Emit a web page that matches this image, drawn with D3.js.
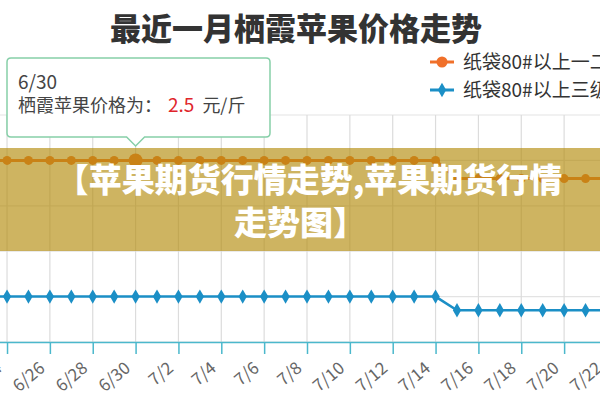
<!DOCTYPE html>
<meta charset="utf-8">
<head>
    <title>最近一月栖霞苹果价格走势</title>
    <script type="text/javascript" src="https://cdn.jsdelivr.net/npm/d3@7/dist/d3.min.js"></script>
    <style type="text/css">
        body { margin: 0; background: #fff; }
        svg { display: block; font-family: "Noto Sans CJK SC", "Noto Sans", sans-serif; }
    </style>
</head>
<body>
    <div id="chart"></div>
    <script>
        // data
        var dates = ["6/23", "6/24", "6/25", "6/26", "6/27", "6/28", "6/29", "6/30",
                     "7/1", "7/2", "7/3", "7/4", "7/5", "7/6", "7/7", "7/8", "7/9", "7/10",
                     "7/11", "7/12", "7/13", "7/14", "7/15", "7/16", "7/17", "7/18", "7/19",
                     "7/20", "7/21", "7/22", "7/23"];
        var grade12 = [2.5, 2.5, 2.5, 2.5, 2.5, 2.5, 2.5, 2.5,
                       2.5, 2.5, 2.5, 2.5, 2.5, 2.5, 2.5, 2.5, 2.5, 2.5,
                       2.5, 2.5, 2.5, 2.5, 2.3, 2.3, 2.3, 2.3, 2.3,
                       2.3, 2.3, 2.3, 2.3];
        var grade3 = [1.0, 1.0, 1.0, 1.0, 1.0, 1.0, 1.0, 1.0,
                      1.0, 1.0, 1.0, 1.0, 1.0, 1.0, 1.0, 1.0, 1.0, 1.0,
                      1.0, 1.0, 1.0, 1.0, 0.85, 0.85, 0.85, 0.85, 0.85,
                      0.85, 0.85, 0.85, 0.85];
        var tickDates = ["6/24", "6/26", "6/28", "6/30", "7/2", "7/4", "7/6", "7/8",
                         "7/10", "7/12", "7/14", "7/16", "7/18", "7/20", "7/22"];
        var yTicks = [0.5, 1.0, 1.5, 2.0, 2.5, 3.0];
        var seriesNames = ["纸袋80#以上一二级", "纸袋80#以上三级"];
        var hoverDate = "6/30";

        var width = 600;
        var height = 400;
        var orange = "#f0702a";
        var blue = "#1b8fc6";

        var svg = d3.select("#chart")
            .append("svg")
            .attr("width", width)
            .attr("height", height);

        var x = d3.scalePoint()
            .domain(dates)
            .range([-14.4, 628.4]);
        var y = d3.scaleLinear()
            .domain([0.5, 3.0])
            .range([342, 115]);

        // grid
        svg.append("g").selectAll("line.h")
            .data(yTicks)
            .enter().append("line")
            .attr("x1", 0).attr("x2", width)
            .attr("y1", d => y(d)).attr("y2", d => y(d))
            .attr("stroke", "#e3e3e3").attr("stroke-width", 1.2);
        svg.append("g").selectAll("line.v")
            .data(tickDates)
            .enter().append("line")
            .attr("x1", d => x(d)).attr("x2", d => x(d))
            .attr("y1", y(3.0)).attr("y2", y(0.5))
            .attr("stroke", "#dcdcdc").attr("stroke-width", 1.2);

        // x axis
        var xAxis = d3.axisBottom(x)
            .tickValues(tickDates)
            .tickSize(12)
            .tickFormat("");
        var gx = svg.append("g")
            .attr("transform", "translate(0," + y(0.5) + ")")
            .call(xAxis);
        gx.select(".domain").attr("stroke", "#4bb8cc").attr("stroke-width", 1.5);
        gx.selectAll(".tick line").attr("stroke", "#4bb8cc").attr("stroke-width", 1.5);

        svg.append("g").selectAll("text")
            .data(tickDates)
            .enter().append("text")
            .attr("transform", d => "translate(" + (x(d) - 4) + ",370) rotate(-40)")
            .attr("text-anchor", "end")
            .attr("font-size", 17)
            .attr("fill", "#666")
            .text(d => d);

        // lines
        var line = d3.line()
            .x(d => x(d.date))
            .y(d => y(d.value));
        var s1 = dates.map((d, i) => ({date: d, value: grade12[i]}));
        var s2 = dates.map((d, i) => ({date: d, value: grade3[i]}));

        svg.append("path")
            .datum(s1)
            .attr("d", line)
            .attr("fill", "none")
            .attr("stroke", orange)
            .attr("stroke-width", 3);
        svg.append("g").selectAll("circle")
            .data(s1)
            .enter().append("circle")
            .attr("cx", d => x(d.date))
            .attr("cy", d => y(d.value))
            .attr("r", d => d.date === hoverDate ? 7 : 4.5)
            .attr("fill", orange);

        svg.append("path")
            .datum(s2)
            .attr("d", line)
            .attr("fill", "none")
            .attr("stroke", blue)
            .attr("stroke-width", 2.5);
        var diamond = d3.symbol().type(d3.symbolDiamond).size(60);
        svg.append("g").selectAll("path")
            .data(s2)
            .enter().append("path")
            .attr("d", diamond)
            .attr("transform", d => "translate(" + x(d.date) + "," + y(d.value) + ")")
            .attr("fill", blue);

        // title
        svg.append("text")
            .attr("x", 296)
            .attr("y", 40)
            .attr("text-anchor", "middle")
            .attr("font-size", 31)
            .attr("font-weight", 900)
            .attr("fill", "#333")
            .text("最近一月栖霞苹果价格走势");

        // legend
        var legendY = [62, 90];
        var legendColor = [orange, blue];
        seriesNames.forEach(function(name, i) {
            var g = svg.append("g").attr("transform", "translate(430," + legendY[i] + ")");
            g.append("line")
                .attr("x1", 0).attr("x2", 24)
                .attr("stroke", legendColor[i]).attr("stroke-width", 3);
            if (i === 0) {
                g.append("circle").attr("cx", 12).attr("r", 5.5).attr("fill", legendColor[i]);
            } else {
                g.append("path").attr("d", diamond).attr("transform", "translate(12,0)")
                    .attr("fill", legendColor[i]);
            }
            g.append("text")
                .attr("x", 33)
                .attr("y", 7)
                .attr("font-size", 19)
                .attr("fill", "#333")
                .text(name);
        });

        // tooltip
        var hx = x(hoverDate);
        var tip = svg.append("g");
        tip.append("path")
            .attr("d", "M7,62 Q7,58 11,58 L266,58 Q270,58 270,62 L270,133 Q270,137 266,137 L" +
                (hx + 9) + ",137 L" + hx + ",146 L" + (hx - 9) + ",137 L11,137 Q7,137 7,133 Z")
            .attr("fill", "#fff")
            .attr("stroke", "#86cfa8")
            .attr("stroke-width", 1.5);
        tip.append("text")
            .attr("x", 18).attr("y", 89)
            .attr("font-size", 19).attr("fill", "#444")
            .text(hoverDate);
        var t2 = tip.append("text")
            .attr("x", 18).attr("y", 112)
            .attr("font-size", 18).attr("fill", "#444");
        t2.append("tspan").text("栖霞苹果价格为：");
        t2.append("tspan").attr("dx", 6).attr("fill", "#e0252b").attr("font-size", 19)
            .text(grade12[dates.indexOf(hoverDate)]);
        t2.append("tspan").attr("dx", 8).text("元/斤");

        // banner overlay
        svg.append("rect")
            .attr("x", 0).attr("y", 148)
            .attr("width", width).attr("height", 103)
            .attr("fill", "rgb(180,140,12)")
            .attr("opacity", 0.65);
        var bannerLines = ["【苹果期货行情走势,苹果期货行情", "走势图】"];
        svg.append("g").selectAll("text")
            .data(bannerLines)
            .enter().append("text")
            .attr("x", (d, i) => i === 0 ? 309 : 300)
            .attr("y", (d, i) => 192 + i * 43)
            .attr("text-anchor", "middle")
            .attr("font-size", 33)
            .attr("font-weight", 900)
            .attr("fill", "#fff")
            .text(d => d);
    </script>
</body>
</html>
